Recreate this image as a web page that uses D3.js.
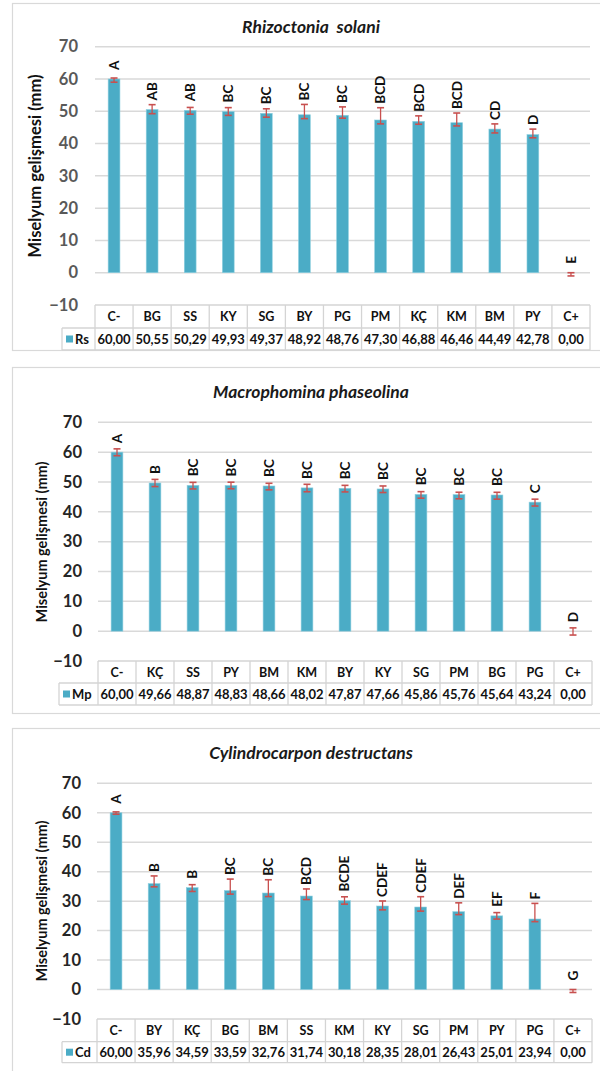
<!DOCTYPE html>
<html>
<head>
<meta charset="utf-8">
<script src="https://cdn.jsdelivr.net/npm/d3@7"></script>
<style>
  html, body { margin: 0; padding: 0; background: #ffffff; }
  svg { display: block; font-family: Lato, "Open Sans", sans-serif; }
</style>
</head>
<body>
<svg id="chart" width="600" height="1071"></svg>
<script>
// ---- Data -------------------------------------------------------------
const yTicks = [70, 60, 50, 40, 30, 20, 10, 0, -10];
const yTitle = "Miselyum gelişmesi (mm)";

// Rhizoctonia solani
const titleRs = "Rhizoctonia  solani";
const seriesRs = "Rs";
const categoriesRs = ["C-", "BG", "SS", "KY", "SG", "BY", "PG", "PM", "KÇ", "KM", "BM", "PY", "C+"];
const valuesRs = [60.00, 50.55, 50.29, 49.93, 49.37, 48.92, 48.76, 47.30, 46.88, 46.46, 44.49, 42.78, 0.00];
const errUpRs = [0.3, 1.5, 0.9, 1.2, 1.4, 3.2, 2.6, 3.8, 1.7, 3.0, 1.6, 1.7, 0.0];
const errDownRs = [1.0, 1.3, 1.2, 1.2, 1.2, 1.2, 0.9, 1.2, 0.9, 1.0, 1.2, 1.0, 1.0];
const lettersRs = ["A", "AB", "AB", "BC", "BC", "BC", "BC", "BCD", "BCD", "BCD", "CD", "D", "E"];

// Macrophomina phaseolina
const titleMp = "Macrophomina phaseolina";
const seriesMp = "Mp";
const categoriesMp = ["C-", "KÇ", "SS", "PY", "BM", "KM", "BY", "KY", "SG", "PM", "BG", "PG", "C+"];
const valuesMp = [60.00, 49.66, 48.87, 48.83, 48.66, 48.02, 47.87, 47.66, 45.86, 45.76, 45.64, 43.24, 0.00];
const errUpMp = [1.1, 1.2, 1.0, 1.1, 0.9, 1.2, 1.0, 1.0, 0.9, 0.8, 0.9, 1.0, 1.1];
const errDownMp = [1.2, 1.2, 1.2, 1.1, 1.3, 1.3, 1.2, 1.2, 1.3, 1.4, 1.4, 1.3, 1.3];
const lettersMp = ["A", "B", "BC", "BC", "BC", "BC", "BC", "BC", "BC", "BC", "BC", "C", "D"];

// Cylindrocarpon destructans
const titleCd = "Cylindrocarpon destructans";
const seriesCd = "Cd";
const categoriesCd = ["C-", "BY", "KÇ", "BG", "BM", "SS", "KM", "KY", "SG", "PM", "PY", "PG", "C+"];
const valuesCd = [60.00, 35.96, 34.59, 33.59, 32.76, 31.74, 30.18, 28.35, 28.01, 26.43, 25.01, 23.94, 0.00];
const errUpCd = [0.3, 2.6, 1.0, 3.9, 4.5, 2.4, 1.3, 1.7, 3.5, 3.0, 1.1, 5.3, 0.0];
const errDownCd = [0.5, 1.1, 1.3, 1.2, 1.2, 1.2, 1.2, 1.3, 1.4, 1.0, 1.1, 0.9, 1.0];
const lettersCd = ["A", "B", "B", "BC", "BC", "BCD", "BCDE", "CDEF", "CDEF", "DEF", "EF", "F", "G"];

// ---- Styling ----------------------------------------------------------
const BAR = "#4bacc6";
const ERR = "#c8504f";
const GRID = "#d9d9d9";
const CELL = "#d4d4d4";

// ---- Panel layout -----------------------------------------------------
const panels = [
  {
    title: titleRs, series: seriesRs, categories: categoriesRs, values: valuesRs,
    errUp: errUpRs, errDown: errDownRs, letters: lettersRs,
    box: { x: 12, y: 3, bottom: 350 },
    left: 95, right: 590, yTop: 46.7, yBottom: 305,
    headerBottom: 328, tableBottom: 350, legendLeft: 62,
    titleY: 27, yTitleX: 35, yTitleY: 166, yTitleSize: 16.5,
    tickRight: 78, tickColor: "#595959", tickSize: 16.5
  },
  {
    title: titleMp, series: seriesMp, categories: categoriesMp, values: valuesMp,
    errUp: errUpMp, errDown: errDownMp, letters: lettersMp,
    box: { x: 12, y: 367, bottom: 713 },
    left: 98, right: 592, yTop: 422.3, yBottom: 661,
    headerBottom: 683, tableBottom: 705, legendLeft: 59,
    titleY: 392, yTitleX: 42, yTitleY: 542, yTitleSize: 14.5,
    tickRight: 82, tickColor: "#262626", tickSize: 16.5
  },
  {
    title: titleCd, series: seriesCd, categories: categoriesCd, values: valuesCd,
    errUp: errUpCd, errDown: errDownCd, letters: lettersCd,
    box: { x: 12, y: 728, bottom: 1072 },
    left: 97, right: 592, yTop: 783.3, yBottom: 1019,
    headerBottom: 1041.7, tableBottom: 1062.7, legendLeft: 62,
    titleY: 752.7, yTitleX: 42, yTitleY: 901, yTitleSize: 14.5,
    tickRight: 81, tickColor: "#262626", tickSize: 16.5
  }
];

const svg = d3.select("#chart");

panels.forEach(p => {
  const g = svg.append("g");

  // outer chart frame
  g.append("rect")
    .attr("x", p.box.x + 0.5).attr("y", p.box.y + 0.5)
    .attr("width", 620).attr("height", p.box.bottom - p.box.y)
    .attr("fill", "#fff").attr("stroke", "#d9d9d9").attr("stroke-width", 1.2);

  const x = d3.scaleBand().domain(p.categories).range([p.left, p.right]).padding(0);
  const y = d3.scaleLinear().domain([-10, 70]).range([p.yBottom, p.yTop]);
  const barW = x.bandwidth() * 0.31;
  const cx = c => x(c) + x.bandwidth() / 2;

  // title (keeps its double spacing)
  g.append("text")
    .attr("x", 311).attr("y", p.titleY).attr("dy", "0.35em")
    .attr("text-anchor", "middle")
    .style("white-space", "pre")
    .attr("font-size", 17.5).attr("font-weight", "bold").attr("font-style", "italic")
    .attr("fill", "#1a1a1a")
    .text(p.title);

  // horizontal gridlines (0..70)
  g.append("g").selectAll("line")
    .data(yTicks.filter(t => t >= 0))
    .join("line")
    .attr("x1", p.left).attr("x2", p.right)
    .attr("y1", d => y(d)).attr("y2", d => y(d))
    .attr("stroke", GRID).attr("stroke-width", 1.5);

  // y axis labels
  const axis = d3.axisLeft(y).tickValues(yTicks).tickSize(0).tickPadding(0)
    .tickFormat(d3.format("d"));
  const ax = g.append("g")
    .attr("transform", `translate(${p.tickRight},0)`)
    .call(axis);
  ax.select(".domain").remove();
  ax.selectAll("text")
    .attr("font-size", p.tickSize).attr("font-weight", "bold")
    .attr("font-family", "Lato, 'Open Sans', sans-serif")
    .attr("fill", p.tickColor);

  // y axis title
  g.append("text")
    .attr("transform", `translate(${p.yTitleX},${p.yTitleY}) rotate(-90)`)
    .attr("text-anchor", "middle").attr("dy", "0.35em")
    .attr("font-size", p.yTitleSize).attr("font-weight", "bold")
    .attr("fill", "#111")
    .text(yTitle);

  // bars
  const rows = p.categories.map((c, i) => ({
    c, v: p.values[i], up: p.errUp[i], down: p.errDown[i], letter: p.letters[i]
  }));

  g.append("g").selectAll("rect")
    .data(rows.filter(d => d.v > 0))
    .join("rect")
    .attr("x", d => cx(d.c) - barW / 2)
    .attr("width", barW)
    .attr("y", d => y(d.v))
    .attr("height", d => y(0) - y(d.v))
    .attr("fill", BAR)
    .attr("stroke", "#8fd0e0").attr("stroke-width", 0.6);

  // error bars
  const eb = g.append("g").selectAll("g").data(rows).join("g");
  eb.append("line")
    .attr("x1", d => cx(d.c)).attr("x2", d => cx(d.c))
    .attr("y1", d => y(d.v + d.up)).attr("y2", d => y(d.v - d.down))
    .attr("stroke", ERR).attr("stroke-width", 1.3);
  eb.append("line")
    .attr("x1", d => cx(d.c) - 3.5).attr("x2", d => cx(d.c) + 3.5)
    .attr("y1", d => y(d.v + d.up)).attr("y2", d => y(d.v + d.up))
    .attr("stroke", ERR).attr("stroke-width", 1.6);
  eb.append("line")
    .attr("x1", d => cx(d.c) - 3.5).attr("x2", d => cx(d.c) + 3.5)
    .attr("y1", d => y(d.v - d.down)).attr("y2", d => y(d.v - d.down))
    .attr("stroke", ERR).attr("stroke-width", 1.6);

  // significance letters, rotated, above the error bars
  g.append("g").selectAll("text")
    .data(rows)
    .join("text")
    .attr("transform", d => {
      const yy = Math.min(y(d.v + d.up) - 4, y(d.v) - 9);
      return `translate(${cx(d.c)},${yy}) rotate(-90)`;
    })
    .attr("dy", "0.36em")
    .attr("text-anchor", "start")
    .attr("font-size", 13.5).attr("font-weight", "bold")
    .attr("fill", "#111")
    .text(d => d.letter);

  // data table under the plot
  const t = g.append("g");
  const edges = p.categories.map(c => x(c)).concat([p.right]);
  t.append("line").attr("x1", p.left).attr("x2", p.right)
    .attr("y1", p.yBottom).attr("y2", p.yBottom).attr("stroke", CELL).attr("stroke-width", 1.3);
  t.append("line").attr("x1", p.legendLeft).attr("x2", p.right)
    .attr("y1", p.headerBottom).attr("y2", p.headerBottom).attr("stroke", CELL).attr("stroke-width", 1.3);
  t.append("line").attr("x1", p.legendLeft).attr("x2", p.right)
    .attr("y1", p.tableBottom).attr("y2", p.tableBottom).attr("stroke", CELL).attr("stroke-width", 1.3);
  t.selectAll(".v").data(edges).join("line")
    .attr("x1", d => d).attr("x2", d => d)
    .attr("y1", p.yBottom).attr("y2", p.tableBottom)
    .attr("stroke", CELL).attr("stroke-width", 1.3);
  t.append("line").attr("x1", p.legendLeft).attr("x2", p.legendLeft)
    .attr("y1", p.headerBottom).attr("y2", p.tableBottom)
    .attr("stroke", CELL).attr("stroke-width", 1.3);

  t.selectAll(".cat").data(p.categories).join("text")
    .attr("x", d => cx(d)).attr("y", (p.yBottom + p.headerBottom) / 2).attr("dy", "0.36em")
    .attr("text-anchor", "middle").attr("font-size", 12.5).attr("font-weight", "bold")
    .attr("fill", "#111").text(d => d);

  const fmt = v => d3.format(".2f")(v).replace(".", ",");
  t.selectAll(".val").data(rows).join("text")
    .attr("x", d => cx(d.c)).attr("y", (p.headerBottom + p.tableBottom) / 2).attr("dy", "0.36em")
    .attr("text-anchor", "middle").attr("font-size", 13).attr("font-weight", "bold")
    .attr("fill", "#111").text(d => fmt(d.v));

  // legend key inside the value row
  const ky = (p.headerBottom + p.tableBottom) / 2;
  t.append("rect").attr("x", p.legendLeft + 4).attr("y", ky - 3.5)
    .attr("width", 7).attr("height", 7).attr("fill", BAR);
  t.append("text").attr("x", p.legendLeft + 13).attr("y", ky).attr("dy", "0.36em")
    .attr("font-size", 13).attr("font-weight", "bold").attr("fill", "#111")
    .text(p.series);
});
</script>
</body>
</html>
